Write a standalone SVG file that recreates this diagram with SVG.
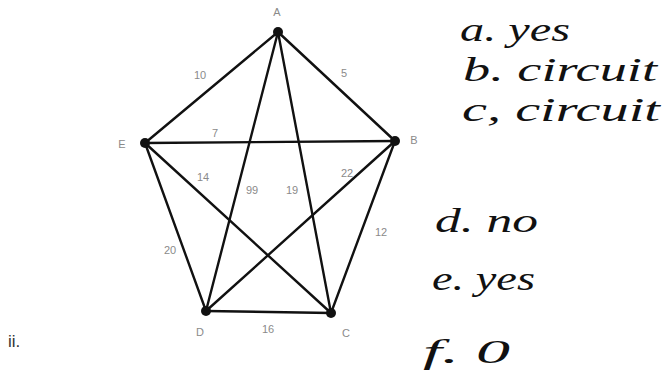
<svg xmlns="http://www.w3.org/2000/svg" width="663" height="377" viewBox="0 0 663 377">
<style>
.e{stroke:#111;stroke-width:2.4;fill:none;stroke-linecap:round}
.n{fill:#111}
.lb{font-family:"Liberation Sans",Arial,sans-serif;font-size:11px;fill:#8a8a8a;text-anchor:middle;dominant-baseline:central}
.hw{font-family:"Liberation Serif","DejaVu Serif",serif;font-style:italic;font-size:33px;fill:#111}
.ii{font-family:"Liberation Sans",Arial,sans-serif;font-size:17px;fill:#333}
</style>
<rect width="663" height="377" fill="#fff"/>
<g id="connectors">
<line class="e" x1="278" y1="32" x2="145" y2="143"/>
<line class="e" x1="278" y1="32" x2="395" y2="141"/>
<line class="e" x1="278" y1="32" x2="206" y2="311"/>
<line class="e" x1="278" y1="32" x2="331" y2="313"/>
<line class="e" x1="145" y1="143" x2="395" y2="141"/>
<line class="e" x1="145" y1="143" x2="206" y2="311"/>
<line class="e" x1="145" y1="143" x2="331" y2="313"/>
<line class="e" x1="395" y1="141" x2="206" y2="311"/>
<line class="e" x1="395" y1="141" x2="331" y2="313"/>
<line class="e" x1="206" y1="311" x2="331" y2="313"/>
<text class="lb" x="200" y="75">10</text>
<text class="lb" x="344" y="73">5</text>
<text class="lb" x="215" y="133">7</text>
<text class="lb" x="203" y="177">14</text>
<text class="lb" x="252" y="190">99</text>
<text class="lb" x="292" y="190">19</text>
<text class="lb" x="347" y="173">22</text>
<text class="lb" x="381" y="232">12</text>
<text class="lb" x="170" y="250">20</text>
<text class="lb" x="268" y="329">16</text>
</g>
<g id="A"><circle class="n" cx="278" cy="32" r="5"/><text class="lb" x="277" y="12">A</text></g>
<g id="E"><circle class="n" cx="145" cy="143" r="5"/><text class="lb" x="122" y="144">E</text></g>
<g id="B"><circle class="n" cx="395" cy="141" r="5"/><text class="lb" x="414" y="140">B</text></g>
<g id="D"><circle class="n" cx="206" cy="311" r="5"/><text class="lb" x="200" y="332">D</text></g>
<g id="C"><circle class="n" cx="331" cy="313" r="5"/><text class="lb" x="346" y="333">C</text></g>
<text class="ii" x="8" y="347">ii.</text>
<g id="answers">
<text class="hw" x="460" y="41" textLength="110" lengthAdjust="spacingAndGlyphs">a. yes</text>
<text class="hw" x="463" y="81" textLength="194" lengthAdjust="spacingAndGlyphs" font-size="30">b. circuit</text>
<text class="hw" x="462" y="121" textLength="198" lengthAdjust="spacingAndGlyphs" font-size="30">c, circuit</text>
<text class="hw" x="435" y="232" textLength="103" lengthAdjust="spacingAndGlyphs" font-size="36">d. no</text>
<text class="hw" x="432" y="290" textLength="103" lengthAdjust="spacingAndGlyphs" font-size="36">e. yes</text>
<text class="hw" x="423" y="363" textLength="87" lengthAdjust="spacingAndGlyphs" font-size="34">f. 0</text>
</g>
</svg>
